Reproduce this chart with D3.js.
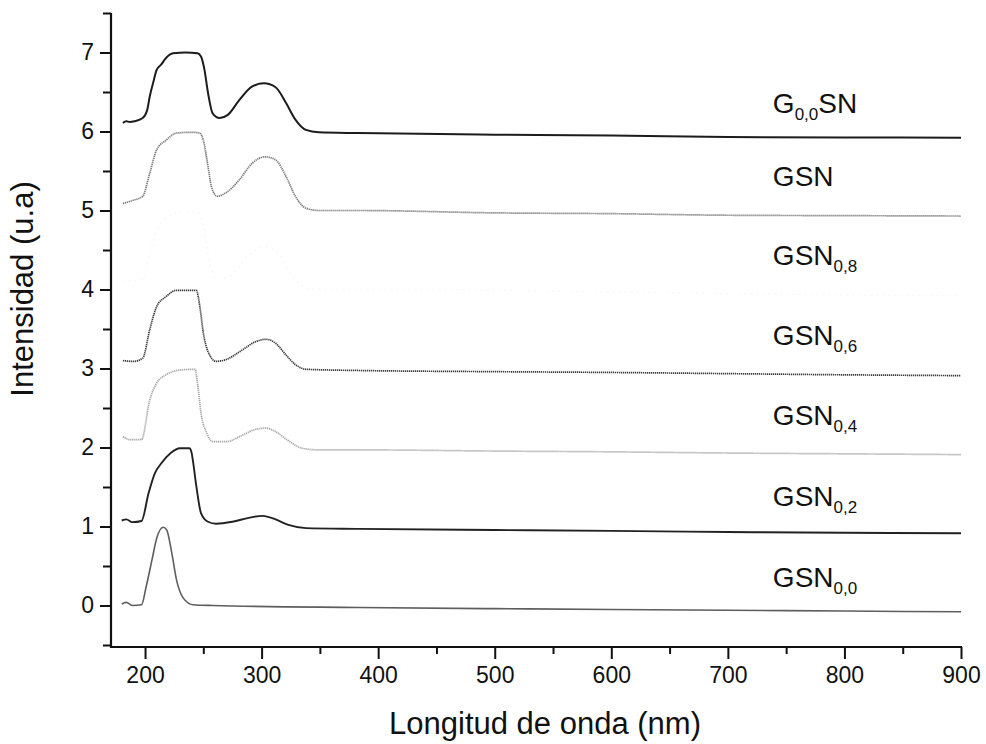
<!DOCTYPE html>
<html>
<head>
<meta charset="utf-8">
<script src="https://cdn.jsdelivr.net/npm/d3@7"></script>
<style>
  html, body { margin: 0; padding: 0; background: #fff; }
  svg { display: block; }
  text { font-family: "Liberation Sans", Arial, sans-serif; fill: #111; }
</style>
</head>
<body>
<svg id="chart" width="986" height="744"></svg>
<script>
// ---- Data (wavelength nm, intensity u.a.) ----
const seriesNames = ["G0,0SN", "GSN", "GSN0,8", "GSN0,6", "GSN0,4", "GSN0,2", "GSN0,0"];

const seriesG00SN = [[181,6.11],[184,6.13],[187,6.12],[191,6.13],[198,6.17],[202,6.28],[204,6.44],[207,6.62],[210,6.78],[214,6.85],[218,6.93],[224,6.99],[235,7.0],[245,6.99],[248,6.95],[251,6.78],[254,6.49],[258,6.23],[264,6.17],[271,6.21],[281,6.40],[292,6.57],[302,6.61],[312,6.56],[321,6.36],[329,6.15],[338,6.02],[349,5.99],[383,5.98],[500,5.96],[600,5.95],[700,5.93],[800,5.925],[900,5.92]];

const seriesGSN = [[181,5.09],[190,5.13],[198,5.18],[204,5.47],[210,5.77],[218,5.89],[227,5.98],[240,5.99],[247,5.98],[250,5.89],[254,5.56],[257,5.30],[262,5.18],[269,5.22],[281,5.39],[292,5.60],[303,5.68],[312,5.64],[321,5.43],[329,5.18],[338,5.03],[349,5.00],[383,5.00],[500,4.97],[600,4.96],[700,4.94],[800,4.935],[900,4.93]];

const seriesGSN08 = [[181,4.10],[198,4.13],[204,4.45],[210,4.75],[220,4.92],[230,4.98],[245,4.98],[250,4.80],[256,4.30],[263,4.12],[275,4.20],[290,4.45],[302,4.54],[313,4.48],[325,4.20],[338,4.02],[350,4.00],[450,4.00],[550,3.98],[700,3.95],[900,3.92]];

const seriesGSN06 = [[181,3.10],[190,3.09],[198,3.13],[204,3.49],[210,3.785],[218,3.91],[227,3.99],[244,3.99],[247,3.785],[250,3.45],[254,3.215],[261,3.09],[269,3.11],[284,3.24],[295,3.34],[304,3.37],[312,3.32],[321,3.17],[329,3.05],[338,2.99],[383,2.975],[500,2.96],[600,2.95],[700,2.935],[800,2.92],[900,2.91]];

const seriesGSN04 = [[181,2.14],[187,2.10],[197,2.10],[204,2.60],[210,2.815],[218,2.92],[230,2.98],[243,2.99],[245,2.815],[248,2.435],[253,2.18],[258,2.075],[270,2.075],[284,2.16],[295,2.23],[304,2.245],[312,2.20],[324,2.075],[335,1.99],[349,1.97],[383,1.97],[500,1.955],[600,1.945],[700,1.93],[800,1.92],[900,1.91]];

const seriesGSN02 = [[180,1.076],[184,1.09],[189,1.055],[197,1.07],[203,1.42],[208.5,1.675],[214,1.80],[222,1.93],[230,1.99],[238,1.99],[240,1.93],[241,1.84],[244,1.51],[248,1.17],[254,1.06],[261,1.035],[275,1.06],[289,1.11],[301,1.135],[312,1.09],[323,1.02],[338,0.98],[383,0.97],[500,0.955],[600,0.945],[700,0.93],[800,0.92],[900,0.915]];

const seriesGSN00 = [[180,0.02],[184,0.04],[189,0.0],[197,0.01],[201,0.24],[206,0.58],[210,0.85],[215.5,0.99],[218.5,0.96],[223,0.66],[227,0.325],[233,0.09],[241,0.01],[258,0.0],[383,-0.025],[500,-0.04],[600,-0.05],[700,-0.06],[800,-0.07],[900,-0.08]];

const xTickValues = [200, 300, 400, 500, 600, 700, 800, 900];
const xMinorTickValues = [250, 350, 450, 550, 650, 750, 850];
const yTickValues = [0, 1, 2, 3, 4, 5, 6, 7];
const yMinorTickValues = [-0.5, 0.5, 1.5, 2.5, 3.5, 4.5, 5.5, 6.5, 7.5];

// ---- Layout / style ----
const svg = d3.select("#chart");
svg.append("rect").attr("width", 986).attr("height", 744).attr("fill", "#fff");

const x = d3.scaleLinear().domain([170.8, 900]).range([111, 961]);
const y = d3.scaleLinear().domain([-0.5, 7.5]).range([645, 13]);

const allSeries = [seriesG00SN, seriesGSN, seriesGSN08, seriesGSN06, seriesGSN04, seriesGSN02, seriesGSN00];
const styles = [
  {stroke: "#1c1c1c", width: 2.0, dash: null},
  {stroke: "#7c7c7c", width: 1.7, dash: "1.3,0.7"},
  {stroke: "#f7f7f7", width: 1.4, dash: "2,4"},
  {stroke: "#3c3c3c", width: 1.7, dash: "1.3,0.7"},
  {stroke: "#a9a9a9", width: 1.7, dash: "1.3,0.7"},
  {stroke: "#222222", width: 1.9, dash: null},
  {stroke: "#5e5e5e", width: 1.6, dash: null}
];

const line = d3.line()
  .x(d => x(d[0]))
  .y(d => y(d[1]))
  .curve(d3.curveMonotoneX);

const lines = svg.append("g");
allSeries.forEach((s, i) => {
  const p = lines.append("path")
    .datum(s)
    .attr("d", line)
    .attr("fill", "none")
    .attr("stroke", styles[i].stroke)
    .attr("stroke-width", styles[i].width)
    .attr("stroke-linejoin", "round");
  if (styles[i].dash) p.attr("stroke-dasharray", styles[i].dash);
});

// ---- Axes ----
const axisColor = "#111";
const xAxisY = 647;
const xAxis = d3.axisBottom(x).tickValues(xTickValues).tickSize(12).tickPadding(8).tickFormat(d3.format("d"));
const gx = svg.append("g").attr("transform", `translate(0,${xAxisY})`).call(xAxis);
gx.select(".domain").remove();
gx.selectAll(".tick line").attr("stroke", axisColor).attr("stroke-width", 2);
gx.selectAll(".tick text").attr("font-size", 23).attr("fill", "#111")
  .attr("font-family", '"Liberation Sans", Arial, sans-serif');
const xMinor = d3.axisBottom(x).tickValues(xMinorTickValues).tickSize(7).tickFormat("");
const gxm = svg.append("g").attr("transform", `translate(0,${xAxisY})`).call(xMinor);
gxm.select(".domain").remove();
gxm.selectAll(".tick line").attr("stroke", axisColor).attr("stroke-width", 2);
svg.append("line").attr("x1", 110).attr("x2", x(900) + 1).attr("y1", xAxisY).attr("y2", xAxisY)
  .attr("stroke", axisColor).attr("stroke-width", 2.2);

const yAxisX = 111;
const yAxis = d3.axisLeft(y).tickValues(yTickValues).tickSize(11).tickPadding(6).tickFormat(d3.format("d"));
const gy = svg.append("g").attr("transform", `translate(${yAxisX},0)`).call(yAxis);
gy.select(".domain").remove();
gy.selectAll(".tick line").attr("stroke", axisColor).attr("stroke-width", 2);
gy.selectAll(".tick text").attr("font-size", 23).attr("fill", "#111")
  .attr("font-family", '"Liberation Sans", Arial, sans-serif');
const yMinor = d3.axisLeft(y).tickValues(yMinorTickValues).tickSize(8).tickFormat("");
const gym = svg.append("g").attr("transform", `translate(${yAxisX},0)`).call(yMinor);
gym.select(".domain").remove();
gym.selectAll(".tick line").attr("stroke", axisColor).attr("stroke-width", 2);
svg.append("line").attr("x1", yAxisX).attr("x2", yAxisX).attr("y1", y(7.5)).attr("y2", xAxisY + 1)
  .attr("stroke", axisColor).attr("stroke-width", 2.2);

// ---- Axis titles ----
svg.append("text")
  .attr("x", 545).attr("y", 734)
  .attr("text-anchor", "middle")
  .attr("font-size", 31)
  .text("Longitud de onda (nm)");

svg.append("text")
  .attr("transform", "translate(33,289) rotate(-90)")
  .attr("text-anchor", "middle")
  .attr("font-size", 31)
  .text("Intensidad (u.a)");

// ---- Series labels ----
const labelParts = [
  [["G", false], ["0,0", true], ["SN", false]],
  [["GSN", false]],
  [["GSN", false], ["0,8", true]],
  [["GSN", false], ["0,6", true]],
  [["GSN", false], ["0,4", true]],
  [["GSN", false], ["0,2", true]],
  [["GSN", false], ["0,0", true]]
];
const labelValueY = [6.23, 5.31, 4.31, 3.30, 2.29, 1.26, 0.24];
const labelWave = 738.6;
labelParts.forEach((parts, i) => {
  const t = svg.append("text")
    .attr("x", x(labelWave)).attr("y", y(labelValueY[i]))
    .attr("font-size", 28);
  let shifted = false;
  parts.forEach(([txt, sub]) => {
    const ts = t.append("tspan").text(txt);
    if (sub && !shifted) { ts.attr("font-size", 17).attr("dy", 7); shifted = true; }
    else if (!sub && shifted) { ts.attr("dy", -7); shifted = false; }
  });
});
</script>
</body>
</html>
